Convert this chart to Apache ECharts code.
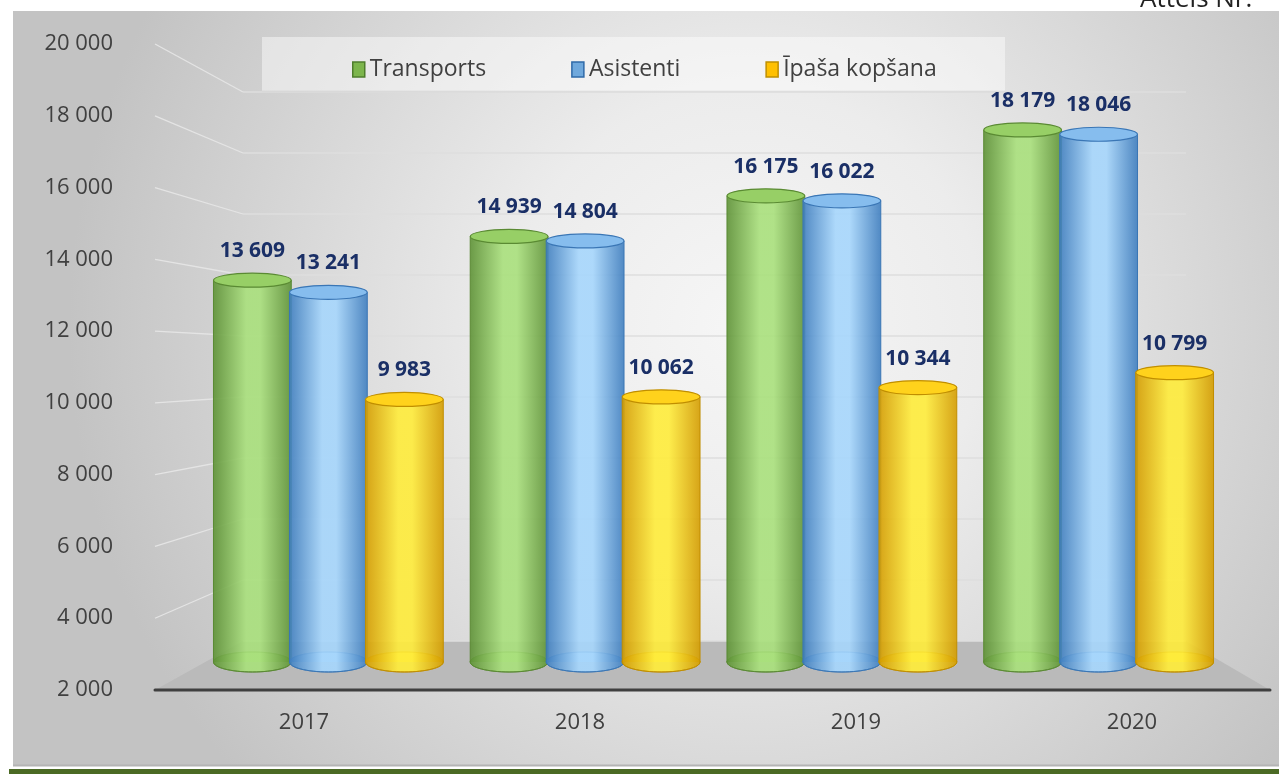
<!DOCTYPE html>
<html>
<head>
<meta charset="utf-8">
<script src="https://cdn.jsdelivr.net/npm/echarts@6/dist/echarts.min.js"></script>
<style>
html, body { margin: 0; padding: 0; background: #fff; }
#main { width: 1279px; height: 774px; }
</style>
</head>
<body>
<div id="main"></div>
<script>
// pasūtījumu skaits pa gadiem
var years = ['2017', '2018', '2019', '2020'];
var transports = [13609, 14939, 16175, 18179];
var asistenti = [13241, 14804, 16022, 18046];
var kopsana = [9983, 10062, 10344, 10799];
var seriesNames = ['Transports', 'Asistenti', 'Īpaša kopšana'];
var yMin = 2000, yMax = 20000, yStep = 2000;

// krāsas cilindriem
var palette = [
    { edge: '#5e9236', mid: '#a9e07c', top: '#97cf66', stroke: '#5a8a33', legend: '#7cb54c', legendBorder: '#4e7d2c' },
    { edge: '#3f7ebf', mid: '#a6d6fc', top: '#86bdee', stroke: '#3a76b5', legend: '#6fa8dc', legendBorder: '#2f6aa8' },
    { edge: '#d49c00', mid: '#ffec3a', top: '#ffd21c', stroke: '#c08e00', legend: '#ffc000', legendBorder: '#bf8f00' }
];

var FRONT = { left: 166, right: 9, top: 44, bottom: 84, wallX: 155, lineEnd: 1270 };
var BACK = { left: 243, right: 93, top: 92, bottom: 133 };
var BARS = { left: 200, right: 52, top: 70, bottom: 112 };

function fmt(v) {
    return String(v).replace(/\B(?=(\d{3})+(?!\d))/g, ' ');
}

function toData(arr) {
    return arr.map(function (v, i) { return [i, v]; });
}

function cylinder(si) {
    var c = palette[si];
    return function (params, api) {
        var idx = api.value(0), val = api.value(1);
        var band = api.size([1, 0])[0];
        var w = band * 0.303;
        var p = api.coord([idx, val]);
        var cx = p[0] + (si - 1) * band * 0.296;
        var top = p[1];
        var base = api.coord([idx, yMin])[1];
        var bodyFill = new echarts.graphic.LinearGradient(0, 0, 1, 0, [
            { offset: 0, color: c.edge },
            { offset: 0.42, color: c.mid },
            { offset: 0.6, color: c.mid },
            { offset: 1, color: c.edge }
        ]);
        return {
            type: 'group',
            children: [
                { type: 'ellipse', shape: { cx: cx, cy: base, rx: w / 2, ry: 10 },
                  style: { fill: bodyFill, stroke: c.stroke, lineWidth: 1, opacity: 0.92 } },
                { type: 'rect', shape: { x: cx - w / 2, y: top, width: w, height: base - top },
                  style: { fill: bodyFill, opacity: 0.9 } },
                { type: 'line', shape: { x1: cx - w / 2, y1: top, x2: cx - w / 2, y2: base },
                  style: { stroke: c.stroke, lineWidth: 1 } },
                { type: 'line', shape: { x1: cx + w / 2, y1: top, x2: cx + w / 2, y2: base },
                  style: { stroke: c.stroke, lineWidth: 1 } },
                { type: 'ellipse', shape: { cx: cx, cy: top, rx: w / 2, ry: 7 },
                  style: { fill: c.top, stroke: c.stroke, lineWidth: 1.2 } },
                { type: 'text', x: cx, y: top - 29,
                  style: { text: fmt(val), fill: '#1a2f66', font: 'bold 21px "Open Sans"',
                           textAlign: 'center', textVerticalAlign: 'middle', align: 'center', verticalAlign: 'middle' } }
            ]
        };
    };
}

var dom = document.getElementById('main');
var myChart = echarts.init(dom, null, { renderer: 'canvas' });
var values = [transports, asistenti, kopsana];

var option = {
    animation: false,
    backgroundColor: '#ffffff',
    legend: {
        data: seriesNames.map(function (n, i) {
            return { name: n, itemStyle: { color: palette[i].legend, borderColor: palette[i].legendBorder, borderWidth: 1.5 } };
        }),
        icon: 'rect',
        left: 347, top: 53,
        itemWidth: 12, itemHeight: 15, itemGap: 85,
        textStyle: { fontFamily: 'Open Sans', fontSize: 23, color: '#404040' }
    },
    grid: [
        { left: FRONT.left, right: FRONT.right, top: FRONT.top, bottom: FRONT.bottom },
        { left: BACK.left, right: BACK.right, top: BACK.top, bottom: BACK.bottom },
        { left: BARS.left, right: BARS.right, top: BARS.top, bottom: BARS.bottom }
    ],
    xAxis: [
        { type: 'category', gridIndex: 0, data: years,
          axisLine: { show: false }, axisTick: { show: false },
          axisLabel: { fontFamily: 'Open Sans', fontSize: 22, color: '#404040', margin: 22 } },
        { type: 'category', gridIndex: 1, data: years, show: false },
        { type: 'category', gridIndex: 2, data: years, show: false }
    ],
    yAxis: [
        { type: 'value', gridIndex: 0, min: yMin, max: yMax, interval: yStep,
          axisLine: { show: false }, axisTick: { show: false }, splitLine: { show: false },
          axisLabel: { formatter: fmt, fontFamily: 'Open Sans', fontSize: 22, color: '#404040', margin: 53 } },
        { type: 'value', gridIndex: 1, min: yMin, max: yMax, interval: yStep,
          axisLine: { show: false }, axisTick: { show: false }, axisLabel: { show: false },
          splitLine: { lineStyle: { color: '#dedede', width: 1.5 } } },
        { type: 'value', gridIndex: 2, min: yMin, max: yMax, interval: yStep, show: false }
    ],
    series: seriesNames.map(function (n, i) {
        return {
            name: n,
            type: 'custom',
            xAxisIndex: 2,
            yAxisIndex: 2,
            itemStyle: { color: palette[i].legend },
            encode: { x: 0, y: 1 },
            data: toData(values[i]),
            renderItem: cylinder(i)
        };
    })
};

myChart.setOption(option);

// fons, grīda un sienas līnijas
var frontBase = myChart.convertToPixel({ yAxisIndex: 0 }, yMin);
var backBase = myChart.convertToPixel({ yAxisIndex: 1 }, yMin);
var backRight = 1279 - BACK.right;
var graphics = [
    { type: 'rect', z: -10, shape: { x: 13, y: 11, width: 1266, height: 754 },
      style: { fill: new echarts.graphic.RadialGradient(0.58, 0.42, 0.9, [
          { offset: 0, color: '#f6f6f6' },
          { offset: 0.35, color: '#ececec' },
          { offset: 1, color: '#c3c3c3' }
      ]) } },
    { type: 'line', z: -9, shape: { x1: 13, y1: 765.5, x2: 1279, y2: 765.5 },
      style: { stroke: '#b4b4b4', lineWidth: 2 } },
    { type: 'rect', z: -9, shape: { x: 9, y: 769, width: 1270, height: 5 },
      style: { fill: '#4b6a24' } },
    { type: 'rect', z: -8, shape: { x: 262, y: 37, width: 743, height: 54 },
      style: { fill: 'rgba(255,255,255,0.45)' } },
    { type: 'line', z: -8, shape: { x1: 262, y1: 91.5, x2: 1005, y2: 91.5 },
      style: { stroke: 'rgba(0,0,0,0.05)', lineWidth: 2 } },
    { type: 'polygon', z: -1,
      shape: { points: [[FRONT.wallX, frontBase], [FRONT.lineEnd, frontBase], [backRight, backBase], [BACK.left, backBase]] },
      style: { fill: '#bababa' } },
    { type: 'line', z: 1, shape: { x1: FRONT.wallX, y1: frontBase, x2: FRONT.lineEnd, y2: frontBase },
      style: { stroke: '#3f3f3f', lineWidth: 3, lineCap: 'round' } },
    { type: 'text', z: 1, x: 1140, y: 13,
      style: { text: 'Attēls Nr.', fill: '#222', font: '26px "Open Sans"', textVerticalAlign: 'bottom', verticalAlign: 'bottom' } }
];
for (var v = yMin + yStep; v <= yMax; v += yStep) {
    graphics.push({
        type: 'line', z: -2,
        shape: { x1: FRONT.wallX, y1: myChart.convertToPixel({ yAxisIndex: 0 }, v),
                 x2: BACK.left, y2: myChart.convertToPixel({ yAxisIndex: 1 }, v) },
        style: { stroke: '#e4e4e4', lineWidth: 1.3 }
    });
}
myChart.setOption({ graphic: graphics });
</script>
</body>
</html>
